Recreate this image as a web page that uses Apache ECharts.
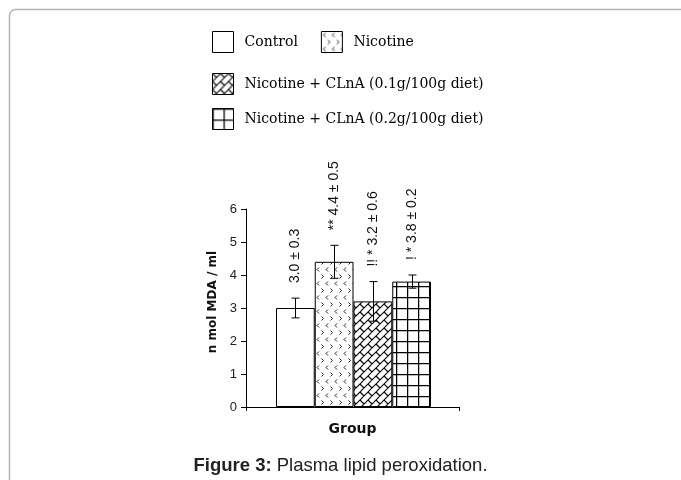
<!DOCTYPE html>
<html>
<head>
<meta charset="utf-8">
<script src="https://cdn.jsdelivr.net/npm/echarts@6/dist/echarts.min.js"></script>
<style>
  html, body { margin: 0; padding: 0; background: #ffffff; }
  #chart { width: 681px; height: 480px; }
</style>
</head>
<body>
<div id="chart"></div>
<script>
// ---- data ----
const groups = ['Control', 'Nicotine', 'Nicotine + CLnA (0.1g/100g diet)', 'Nicotine + CLnA (0.2g/100g diet)'];
const means = [3.0, 4.4, 3.2, 3.8];
const errors = [0.3, 0.5, 0.6, 0.2];
const marks = ['', '** ', '!! * ', '! * '];
const yMin = 0, yMax = 6, yStep = 1;
const xAxisName = 'Group';
const yAxisName = 'n mol MDA / ml';
const caption = 'Plasma lipid peroxidation.';
const captionLead = 'Figure 3:';

// ---- fill patterns ----
function tile(w, h, draw) {
  const c = document.createElement('canvas');
  c.width = w; c.height = h;
  const ctx = c.getContext('2d');
  ctx.fillStyle = '#ffffff';
  ctx.fillRect(0, 0, w, h);
  ctx.strokeStyle = '#000000';
  ctx.lineWidth = 1;
  draw(ctx);
  return { image: c, repeat: 'repeat' };
}
const patWhite = '#ffffff';
const patDots = tile(9, 14, ctx => {
  ctx.strokeStyle = '#222';
  ctx.beginPath();
  ctx.moveTo(4, 1.5); ctx.lineTo(2, 3.5); ctx.lineTo(4, 5.5);
  ctx.moveTo(6.5, 8.5); ctx.lineTo(8.5, 10.5); ctx.lineTo(6.5, 12.5);
  ctx.stroke();
});
const patBrick = tile(16, 16, ctx => {
  const r = Math.SQRT1_2;
  ctx.setTransform(r, -r, r, r, 0, 0);
  const h = 8 * r, L = 8 / r;
  ctx.lineWidth = 1.1;
  ctx.beginPath();
  for (let n = -8; n <= 8; n++) {
    const v = n * h;
    ctx.moveTo(-60, v); ctx.lineTo(60, v);
    const off = (Math.abs(n) % 2) * L / 2;
    for (let k = -10; k <= 10; k++) {
      const u = k * L + off;
      ctx.moveTo(u, v); ctx.lineTo(u, v + h);
    }
  }
  ctx.stroke();
});
const patGrid = tile(11, 11, ctx => {
  ctx.lineWidth = 1.3;
  ctx.beginPath();
  ctx.moveTo(0.6, 0); ctx.lineTo(0.6, 11);
  ctx.moveTo(0, 0.6); ctx.lineTo(11, 0.6);
  ctx.stroke();
});
const fills = [patWhite, patDots, patBrick, patGrid];

const chart = echarts.init(document.getElementById('chart'), null, { renderer: 'canvas' });

const barSeries = groups.map((g, i) => ({
  name: g,
  type: 'bar',
  xAxisIndex: 1,
  yAxisIndex: 1,
  barGap: '-100%',
  barCategoryGap: '0%',
  data: means.map((m, j) => (j === i ? m : null)),
  itemStyle: { color: fills[i], borderColor: '#000', borderWidth: 1 },
  emphasis: { disabled: true },
  silent: true
}));

const errSeries = {
  type: 'custom',
  xAxisIndex: 1,
  yAxisIndex: 1,
  silent: true,
  z: 5,
  data: means.map((m, i) => [i, m, errors[i]]),
  renderItem: function (params, api) {
    const i = api.value(0), m = api.value(1), e = api.value(2);
    const lo = api.coord([i, m - e]);
    const hi = api.coord([i, m + e]);
    const x = Math.round(hi[0]) + 0.5;
    const cap = 4;
    const s = { stroke: '#000', lineWidth: 1 };
    const label = marks[i] + m.toFixed(1) + ' \u00b1 ' + e.toFixed(1);
    return {
      type: 'group',
      children: [
        { type: 'line', shape: { x1: x, y1: lo[1], x2: x, y2: hi[1] }, style: s },
        { type: 'line', shape: { x1: x - cap, y1: lo[1], x2: x + cap, y2: lo[1] }, style: s },
        { type: 'line', shape: { x1: x - cap, y1: hi[1], x2: x + cap, y2: hi[1] }, style: s },
        {
          type: 'text', x: x, y: hi[1] - 15, rotation: Math.PI / 2,
          style: {
            text: label, align: 'left', verticalAlign: 'middle',
            font: '14px "Liberation Sans", Arial, sans-serif', fill: '#111'
          }
        }
      ]
    };
  }
};

const legendText = { fontFamily: '"DejaVu Serif", serif', fontSize: 14, color: '#000', padding: [0, 0, 0, 6] };
const legendCommon = {
  orient: 'horizontal', icon: 'rect', itemWidth: 21, itemHeight: 21,
  selectedMode: false, textStyle: legendText, padding: 0,
  itemStyle: { borderColor: '#000', borderWidth: 1 }
};

chart.setOption({
  animation: false,
  backgroundColor: '#ffffff',
  title: {
    text: '{b|' + captionLead + '} ' + caption,
    left: 'center', top: 451,
    textStyle: {
      fontFamily: '"Liberation Sans", Arial, sans-serif', fontSize: 18.5, fontWeight: 'normal', color: '#222',
      rich: { b: { fontFamily: '"Liberation Sans", Arial, sans-serif', fontSize: 18.5, fontWeight: 'bold', color: '#222' } }
    }
  },
  graphic: [{
    type: 'rect', silent: true,
    shape: { x: 9.5, y: 9.5, width: 900, height: 700, r: 6 },
    style: { fill: 'none', stroke: '#b4b4b4', lineWidth: 1.5 }
  }],
  legend: [
    Object.assign({}, legendCommon, { data: [groups[0], groups[1]], left: 212, top: 31, itemGap: 23 }),
    Object.assign({}, legendCommon, { data: [groups[2]], left: 212, top: 73 }),
    Object.assign({}, legendCommon, { data: [groups[3]], left: 212, top: 108 })
  ],
  grid: [
    { left: 246, right: 222, top: 209, bottom: 73 },
    { left: 276, right: 250, top: 209, bottom: 73 }
  ],
  xAxis: [
    {
      gridIndex: 0, type: 'category', data: [xAxisName],
      axisLine: { lineStyle: { color: '#000', width: 1 } },
      axisTick: { show: true, length: 4, lineStyle: { color: '#000' } },
      axisLabel: { show: false },
      name: xAxisName, nameLocation: 'middle', nameGap: 15,
      nameTextStyle: { fontFamily: '"DejaVu Sans", Verdana, sans-serif', fontWeight: 'bold', fontSize: 14, color: '#111' }
    },
    { gridIndex: 1, type: 'category', data: groups, show: false }
  ],
  yAxis: [
    {
      gridIndex: 0, type: 'value', min: yMin, max: yMax, interval: yStep,
      axisLine: { show: true, lineStyle: { color: '#000', width: 1 } },
      axisTick: { show: true, length: 5, lineStyle: { color: '#000' } },
      axisLabel: { fontFamily: '"Liberation Sans", Arial, sans-serif', fontSize: 13, color: '#222', margin: 9 },
      splitLine: { show: false },
      name: yAxisName, nameLocation: 'middle', nameGap: 27,
      nameTextStyle: { fontFamily: '"DejaVu Sans", Verdana, sans-serif', fontWeight: 'bold', fontSize: 12, color: '#111', padding: [0, 0, 0, 12] }
    },
    { gridIndex: 1, type: 'value', min: yMin, max: yMax, interval: yStep, show: false }
  ],
  series: barSeries.concat([errSeries])
});
</script>
</body>
</html>
